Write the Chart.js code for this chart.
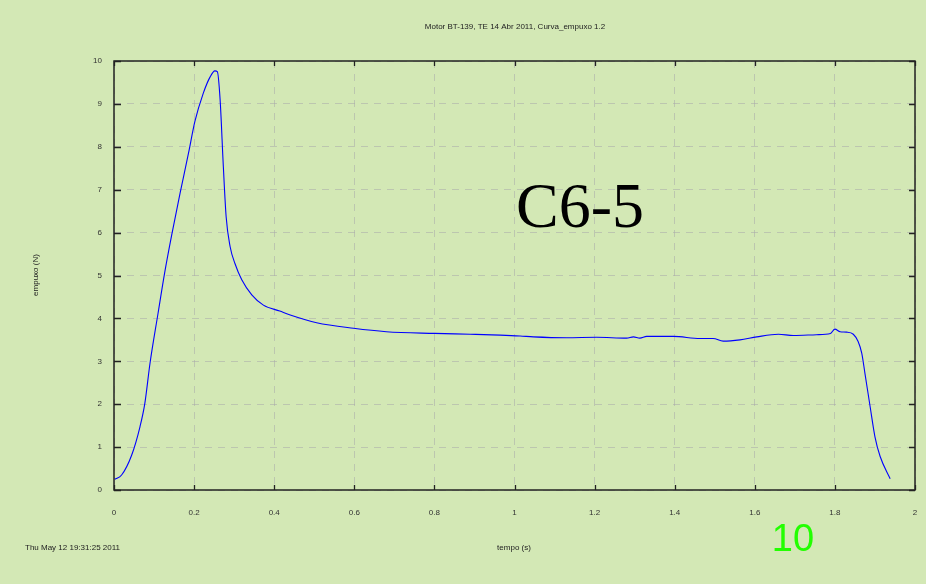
<!DOCTYPE html>
<html>
<head>
<meta charset="utf-8">
<script src="https://cdn.jsdelivr.net/npm/chart.js@4/dist/chart.umd.min.js"></script>
<style>
  html, body { margin: 0; padding: 0; background: #d3e8b5; }
  #wrap { width: 926px; height: 584px; }
</style>
</head>
<body>
<div id="wrap"><canvas id="c" width="926" height="584"></canvas></div>
<script>
const chartTitle = "Motor BT-139, TE 14 Abr 2011, Curva_empuxo 1.2";
const xAxisTitle = "tempo (s)";
const yAxisTitle = "empuxo (N)";
const dateLabel = "Thu May 12 19:31:25 2011";
const motorLabel = "C6-5";
const cornerLabel = "10";

const timeValues = [0.002,0.019,0.044,0.065,0.077,0.09,0.11,0.127,0.144,0.165,0.186,0.202,0.223,0.24,0.252,0.258,0.265,0.273,0.28,0.29,0.302,0.319,0.344,0.373,0.414,0.44,0.506,0.598,0.68,0.80,0.889,0.964,1.014,1.047,1.13,1.205,1.28,1.297,1.313,1.33,1.397,1.463,1.496,1.521,1.563,1.605,1.659,1.696,1.754,1.789,1.80,1.813,1.829,1.846,1.858,1.867,1.875,1.888,1.90,1.913,1.938];
const thrustValues = [0.25,0.35,0.81,1.48,2.02,2.96,4.12,5.09,5.94,6.92,7.85,8.59,9.25,9.63,9.77,9.75,9.09,7.54,6.37,5.67,5.28,4.9,4.55,4.31,4.17,4.08,3.9,3.77,3.69,3.65,3.63,3.61,3.59,3.57,3.55,3.56,3.54,3.57,3.54,3.58,3.58,3.53,3.53,3.47,3.50,3.57,3.63,3.60,3.62,3.65,3.75,3.69,3.68,3.63,3.46,3.19,2.72,1.94,1.24,0.78,0.26];
const xTickValues = [0,0.2,0.4,0.6,0.8,1,1.2,1.4,1.6,1.8,2];
const yTickValues = [0,1,2,3,4,5,6,7,8,9,10];

const points = timeValues.map((t, i) => ({ x: t, y: thrustValues[i] }));

const bgPlugin = {
  id: 'bg',
  beforeDraw(chart) {
    const ctx = chart.ctx;
    ctx.save();
    ctx.fillStyle = '#d3e8b5';
    ctx.fillRect(0, 0, chart.width, chart.height);
    ctx.restore();
  }
};

const framePlugin = {
  id: 'frame',
  afterDatasetsDraw(chart) {
    const ctx = chart.ctx;
    const a = chart.chartArea;
    const xs = chart.scales.x, ys = chart.scales.y;
    ctx.save();
    ctx.strokeStyle = '#222';
    ctx.lineWidth = 1.5;
    ctx.strokeRect(a.left, a.top, a.right - a.left, a.bottom - a.top);
    ctx.lineWidth = 1.3;
    ctx.beginPath();
    yTickValues.forEach(v => {
      const p = Math.round(ys.getPixelForValue(v)) + 0.5;
      ctx.moveTo(a.left, p); ctx.lineTo(a.left + 7, p);
      ctx.moveTo(a.right, p); ctx.lineTo(a.right - 6, p);
    });
    xTickValues.forEach(v => {
      const p = Math.round(xs.getPixelForValue(v)) + 0.5;
      ctx.moveTo(p, a.bottom); ctx.lineTo(p, a.bottom - 5);
      ctx.moveTo(p, a.top); ctx.lineTo(p, a.top + 5);
    });
    ctx.stroke();

    // texts
    ctx.fillStyle = '#222';
    ctx.textAlign = 'center';
    ctx.textBaseline = 'middle';
    ctx.font = '8px "Liberation Sans", Arial, sans-serif';
    ctx.fillText(chartTitle, 515, 27);
    ctx.fillText(xAxisTitle, 514, 548);
    ctx.textAlign = 'left';
    ctx.fillText(dateLabel, 25, 548);
    ctx.save();
    ctx.translate(36, 275);
    ctx.rotate(-Math.PI / 2);
    ctx.textAlign = 'center';
    ctx.fillText(yAxisTitle, 0, 0);
    ctx.restore();

    ctx.fillStyle = '#000';
    ctx.textAlign = 'center';
    ctx.textBaseline = 'alphabetic';
    ctx.font = '64px "Liberation Serif", "Times New Roman", serif';
    ctx.fillText(motorLabel, 580, 227);

    ctx.fillStyle = '#22ff00';
    ctx.font = '38px "Liberation Sans", Arial, sans-serif';
    ctx.fillText(cornerLabel, 793, 551);
    ctx.restore();
  }
};

new Chart(document.getElementById('c'), {
  type: 'line',
  data: {
    datasets: [{
      data: points,
      borderColor: '#0000ff',
      borderWidth: 1.1,
      pointRadius: 0,
      fill: false,
      cubicInterpolationMode: 'monotone'
    }]
  },
  options: {
    responsive: false,
    animation: false,
    layout: { padding: { left: 0, top: 61, right: 11, bottom: 0 } },
    plugins: { legend: { display: false }, tooltip: { enabled: false } },
    scales: {
      x: {
        type: 'linear',
        min: 0, max: 2,
        afterBuildTicks(scale) { scale.ticks = xTickValues.map(v => ({ value: v })); },
        afterFit(scale) { scale.height = 94; scale.paddingLeft = 0; scale.paddingRight = 0; },
        grid: { color: 'rgba(170,170,170,0.55)', lineWidth: 1, drawTicks: false },
        border: { display: false, dash: [7, 6] },
        ticks: {
          padding: 18,
          color: '#333',
          font: { family: '"Liberation Sans", Arial, sans-serif', size: 8 },
          maxRotation: 0,
          callback: v => String(Number(v.toFixed(1)))
        }
      },
      y: {
        min: 0, max: 10,
        afterBuildTicks(scale) { scale.ticks = yTickValues.map(v => ({ value: v })); },
        afterFit(scale) { scale.width = 114; scale.paddingTop = 0; scale.paddingBottom = 0; },
        grid: { color: 'rgba(170,170,170,0.55)', lineWidth: 1, drawTicks: false },
        border: { display: false, dash: [7, 6] },
        ticks: {
          padding: 12,
          color: '#333',
          font: { family: '"Liberation Sans", Arial, sans-serif', size: 8 },
          callback: v => String(v)
        }
      }
    }
  },
  plugins: [bgPlugin, framePlugin]
});
</script>
</body>
</html>
